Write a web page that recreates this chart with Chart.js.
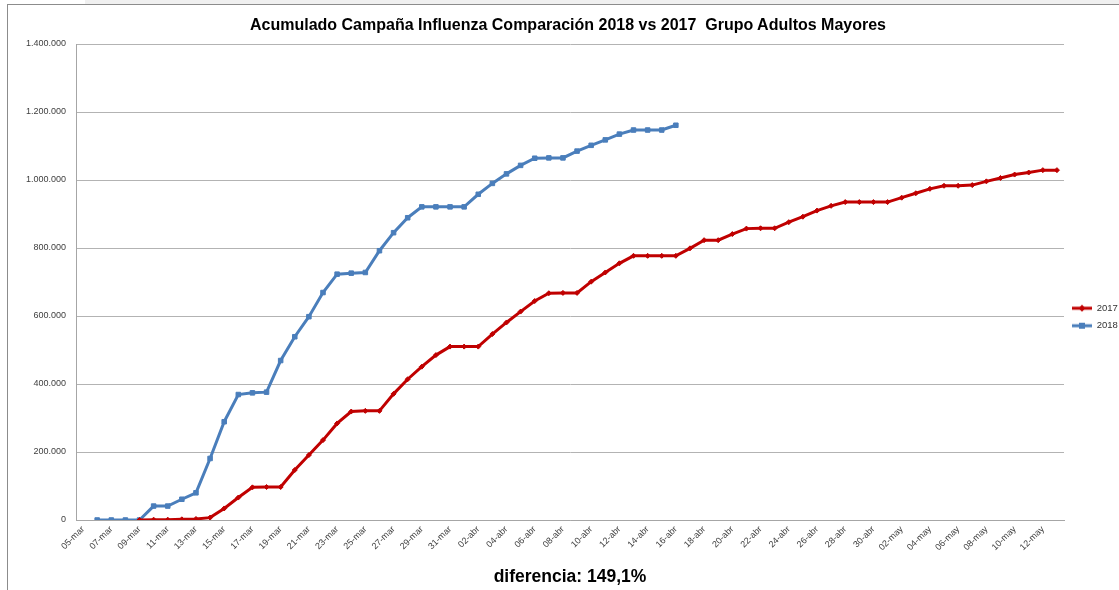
<!DOCTYPE html>
<html lang="es">
<head>
    <meta charset="UTF-8">
    <title>Acumulado Campaña Influenza</title>
    <script src="https://cdn.jsdelivr.net/npm/chart.js"></script>
    <style>
        body {
            margin: 0;
            width: 1119px;
            height: 590px;
            overflow: hidden;
            background: #ffffff;
            position: relative;
            font-family: "Liberation Sans", Arial, sans-serif;
        }
        /* bande grise et cadre de la capture d'origine */
        .strip {
            position: absolute;
            left: 85px; top: 0;
            width: 1034px; height: 4px;
            background: #f0f0f0;
        }
        .frame {
            position: absolute;
            left: 7px; top: 4px;
            width: 1112px; height: 586px;
            border-left: 1px solid #8c8c8c;
            border-top: 1px solid #8c8c8c;
        }
        canvas {
            position: absolute;
            left: 0; top: 0;
        }
        .title, .footer {
            position: absolute;
            white-space: nowrap;
            font-weight: bold;
            color: #000;
            transform: translateX(-50%);
        }
        .title {
            left: 568px;
            top: 16px;
            font-size: 16px;
        }
        .footer {
            left: 570px;
            top: 566px;
            font-size: 17.5px;
        }
    </style>
</head>
<body>
    <div class="strip"></div>
    <div class="frame"></div>
    <canvas id="chart" width="1119" height="590"></canvas>
    <div class="title">Acumulado Campaña Influenza Comparación 2018 vs 2017&nbsp; Grupo Adultos Mayores</div>
    <div class="footer">diferencia: 149,1%</div>

    <script>
        // Jours de la campagne (05-mar -> 13-may)
        const labels = [
            '05-mar', '06-mar', '07-mar', '08-mar', '09-mar', '10-mar', '11-mar', '12-mar', '13-mar', '14-mar',
            '15-mar', '16-mar', '17-mar', '18-mar', '19-mar', '20-mar', '21-mar', '22-mar', '23-mar', '24-mar',
            '25-mar', '26-mar', '27-mar', '28-mar', '29-mar', '30-mar', '31-mar', '01-abr', '02-abr', '03-abr',
            '04-abr', '05-abr', '06-abr', '07-abr', '08-abr', '09-abr', '10-abr', '11-abr', '12-abr', '13-abr',
            '14-abr', '15-abr', '16-abr', '17-abr', '18-abr', '19-abr', '20-abr', '21-abr', '22-abr', '23-abr',
            '24-abr', '25-abr', '26-abr', '27-abr', '28-abr', '29-abr', '30-abr', '01-may', '02-may', '03-may',
            '04-may', '05-may', '06-may', '07-may', '08-may', '09-may', '10-may', '11-may', '12-may', '13-may'
        ];

        // Acumulado 2017
        const values2017 = [
            null, null, null, null, 0, 1000, 1000, 2000, 3000, 7000,
            34000, 66000, 96000, 97000, 97000, 147000, 191000, 235000, 284000, 319000,
            321000, 321000, 371000, 414000, 451000, 485000, 510000, 510000, 510000, 547000,
            581000, 613000, 644000, 667000, 668000, 668000, 701000, 728000, 755000, 777000,
            777000, 777000, 777000, 799000, 823000, 823000, 841000, 857000, 858000, 858000,
            876000, 892000, 910000, 924000, 935000, 935000, 935000, 935000, 948000, 961000,
            974000, 983000, 983000, 985000, 996000, 1006000, 1016000, 1022000, 1029000, 1029000
        ];

        // Acumulado 2018 (hasta 16-abr)
        const values2018 = [
            null, 0, 0, 0, 0, 41000, 41000, 61000, 80000, 181000,
            289000, 369000, 374000, 376000, 469000, 539000, 598000, 669000, 723000, 726000,
            728000, 792000, 845000, 889000, 921000, 921000, 921000, 921000, 958000, 990000,
            1018000, 1043000, 1064000, 1065000, 1065000, 1085000, 1102000, 1118000, 1135000, 1147000,
            1147000, 1147000, 1161000
        ];

        const yTicks = [0, 200000, 400000, 600000, 800000, 1000000, 1200000, 1400000];

        const red = '#c00000';
        const blue = '#4a7ebb';

        // Format "1.400.000"
        function formatMiles(v) {
            return String(v).replace(/\B(?=(\d{3})+(?!\d))/g, '.');
        }

        // Petite icône de légende : trait + marqueur
        function legendIcon(color, marker) {
            const c = document.createElement('canvas');
            c.width = 20;
            c.height = 8;
            const g = c.getContext('2d');
            g.strokeStyle = color;
            g.lineWidth = 3;
            g.beginPath();
            g.moveTo(0, 4);
            g.lineTo(20, 4);
            g.stroke();
            g.fillStyle = color;
            if (marker === 'rect') {
                g.fillRect(7, 1, 6, 6);
            } else {
                g.beginPath();
                g.moveTo(10, 0.5);
                g.lineTo(13.5, 4);
                g.lineTo(10, 7.5);
                g.lineTo(6.5, 4);
                g.closePath();
                g.fill();
            }
            return c;
        }

        const icons = {
            '2017': legendIcon(red, 'diamond'),
            '2018': legendIcon(blue, 'rect')
        };

        new Chart(document.getElementById('chart'), {
            type: 'line',
            data: {
                labels: labels,
                datasets: [
                    {
                        label: '2017',
                        data: values2017,
                        borderColor: red,
                        backgroundColor: red,
                        borderWidth: 3,
                        pointStyle: 'rectRot',
                        pointRadius: 2.5,
                        pointBorderWidth: 1,
                        tension: 0,
                        fill: false
                    },
                    {
                        label: '2018',
                        data: values2018,
                        borderColor: blue,
                        backgroundColor: blue,
                        borderWidth: 3,
                        pointStyle: 'rect',
                        pointRadius: 3.2,
                        pointBorderWidth: 1,
                        tension: 0,
                        fill: false
                    }
                ]
            },
            options: {
                responsive: false,
                animation: false,
                layout: {
                    padding: { top: 44, left: 0, right: 0, bottom: 0 }
                },
                plugins: {
                    title: { display: false },
                    tooltip: { enabled: false },
                    legend: {
                        position: 'right',
                        align: 'center',
                        maxWidth: 55,
                        labels: {
                            usePointStyle: true,
                            pointStyleWidth: 20,
                            padding: 8,
                            color: '#333',
                            font: { family: 'Liberation Sans', size: 9.5 },
                            generateLabels: function (chart) {
                                const items = Chart.defaults.plugins.legend.labels.generateLabels(chart);
                                items.forEach(item => {
                                    item.pointStyle = icons[item.text];
                                });
                                return items;
                            }
                        }
                    }
                },
                scales: {
                    x: {
                        type: 'category',
                        offset: true,
                        grid: { display: false, drawTicks: false },
                        border: { display: true, color: '#a6a6a6', width: 1 },
                        ticks: {
                            autoSkip: false,
                            maxRotation: 45,
                            minRotation: 45,
                            padding: 4,
                            color: '#404040',
                            font: { family: 'Liberation Sans', size: 9 },
                            callback: function (value, index) {
                                return index % 2 === 0 ? labels[index] : '';
                            }
                        },
                        afterFit: function (scale) {
                            scale.height = 70;
                        }
                    },
                    y: {
                        min: 0,
                        max: 1400000,
                        afterBuildTicks: function (scale) {
                            scale.ticks = yTicks.map(v => ({ value: v }));
                        },
                        grid: { color: '#b3b3b3', lineWidth: 1, drawTicks: false },
                        border: { display: true, color: '#a6a6a6', width: 1 },
                        ticks: {
                            padding: 10,
                            color: '#404040',
                            font: { family: 'Liberation Sans', size: 9 },
                            callback: function (value) {
                                return formatMiles(value);
                            }
                        },
                        afterFit: function (scale) {
                            scale.width = 76;
                        }
                    }
                }
            }
        });
    </script>
</body>
</html>
